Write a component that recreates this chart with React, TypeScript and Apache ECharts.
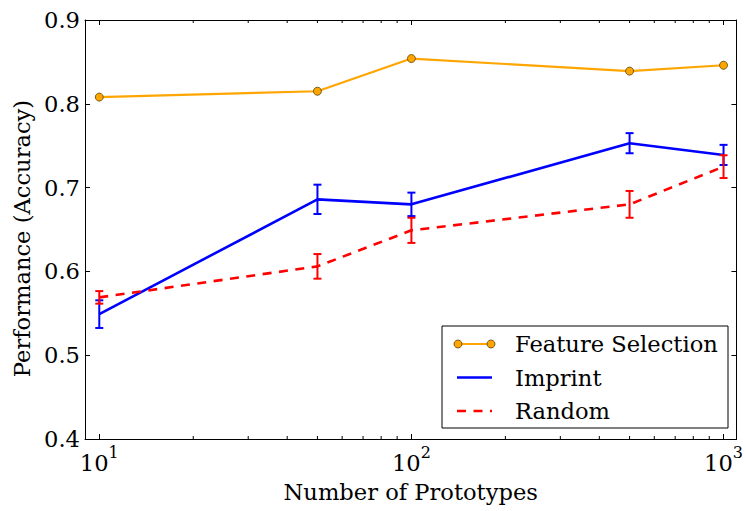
import React, { useEffect, useRef } from "react";
import * as echarts from "echarts";

const prototypes = [10, 50, 100, 500, 1000];
const featureSelection = [0.808, 0.815, 0.854, 0.839, 0.846];
const imprint = [0.549, 0.686, 0.68, 0.753, 0.739];
const imprintErr = [0.0165, 0.0175, 0.014, 0.012, 0.012];
const random = [0.569, 0.606, 0.649, 0.68, 0.725];
const randomErr = [0.0075, 0.0147, 0.015, 0.016, 0.0136];
const minorTicks = [20, 30, 40, 50, 60, 70, 80, 90, 200, 300, 400, 500, 600, 700, 800, 900];
const yTicks = [0.4, 0.5, 0.6, 0.7, 0.8, 0.9];
const legendNames = ["Feature Selection", "Imprint", "Random"];

const FONT = "'DejaVu Serif', serif";
const FS = 22.6;
const ORANGE = "#FFA500";
const BLUE = "#0000FF";
const RED = "#FF0000";

function errRender(color: string) {
  return (params: any, api: any) => {
    const x = api.value(0);
    const lo = api.coord([x, api.value(1)]);
    const hi = api.coord([x, api.value(2)]);
    const w = 4;
    const style = { stroke: color, lineWidth: 2 };
    return {
      type: "group",
      children: [
        { type: "line", shape: { x1: lo[0], y1: lo[1], x2: hi[0], y2: hi[1] }, style },
        { type: "line", shape: { x1: lo[0] - w, y1: lo[1], x2: lo[0] + w, y2: lo[1] }, style },
        { type: "line", shape: { x1: hi[0] - w, y1: hi[1], x2: hi[0] + w, y2: hi[1] }, style },
      ],
    };
  };
}

export default function App() {
  const ref = useRef<HTMLDivElement>(null);
  useEffect(() => {
    if (!ref.current) return;
    const chart = echarts.init(ref.current, undefined, { renderer: "svg" });
    const yMin = yTicks[0];
    const yMax = yTicks[yTicks.length - 1];
    const xAxisBase = {
      type: "log",
      logBase: 10,
      min: 9,
      max: 1100,
      splitLine: { show: false },
      axisLine: { lineStyle: { color: "#000", width: 1 } },
      axisTick: { inside: true, length: 5, lineStyle: { color: "#000" } },
    };
    const yAxisBase = {
      type: "value",
      min: yMin,
      max: yMax,
      interval: 0.1,
      splitLine: { show: false },
      axisLine: { show: true, lineStyle: { color: "#000", width: 1 } },
      axisTick: { show: true, inside: true, length: 5, lineStyle: { color: "#000" } },
    };
    const legendY = [344, 377.5, 411];
    chart.setOption({
      animation: false,
      backgroundColor: "#fff",
      textStyle: { fontFamily: FONT },
      grid: { left: 85, right: 7, top: 20, bottom: 72 },
      xAxis: [
        {
          ...xAxisBase,
          position: "bottom",
          name: "Number of Prototypes",
          nameLocation: "middle",
          nameGap: 41,
          nameTextStyle: { fontSize: FS, color: "#000", fontFamily: FONT },
          axisLabel: {
            margin: 5,
            color: "#000",
            fontFamily: FONT,
            formatter: (v: number) => {
              const e = Math.round(Math.log10(v));
              if (Math.abs(Math.pow(10, e) - v) > 1e-6 * v) return "";
              return `{b|10}{s|${e}}`;
            },
            rich: {
              b: { fontSize: FS, lineHeight: 37, fontFamily: FONT, color: "#000" },
              s: { fontSize: 16, lineHeight: 17, verticalAlign: "top", fontFamily: FONT, color: "#000" },
            },
          },
        },
        {
          ...xAxisBase,
          position: "top",
          axisLabel: { show: false },
        },
      ],
      yAxis: [
        {
          ...yAxisBase,
          position: "left",
          name: "Performance (Accuracy)",
          nameLocation: "middle",
          nameGap: 47,
          nameTextStyle: { fontSize: FS, color: "#000", fontFamily: FONT, padding: [0, 18, 0, 0] },
          axisLabel: {
            margin: 5,
            fontSize: FS,
            color: "#000",
            fontFamily: FONT,
            formatter: (v: number) => v.toFixed(1),
          },
        },
        {
          ...yAxisBase,
          position: "right",
          axisLabel: { show: false },
        },
      ],
      series: [
        {
          type: "custom",
          name: "minor ticks",
          silent: true,
          xAxisIndex: 0,
          yAxisIndex: 0,
          data: minorTicks.map((v) => [v, yMin]),
          encode: { x: 0, y: 1 },
          renderItem: (params: any, api: any) => {
            const x = api.value(0);
            const b = api.coord([x, yMin]);
            const t = api.coord([x, yMax]);
            const style = { stroke: "#000", lineWidth: 1 };
            return {
              type: "group",
              children: [
                { type: "line", shape: { x1: b[0], y1: b[1], x2: b[0], y2: b[1] - 3 }, style },
                { type: "line", shape: { x1: t[0], y1: t[1], x2: t[0], y2: t[1] + 3 }, style },
              ],
            };
          },
        },
        {
          type: "line",
          name: legendNames[0],
          data: prototypes.map((x, i) => [x, featureSelection[i]]),
          symbol: "circle",
          symbolSize: 8,
          itemStyle: { color: ORANGE, borderColor: "#5a4000", borderWidth: 0.8 },
          lineStyle: { color: ORANGE, width: 2.2 },
          z: 3,
        },
        {
          type: "line",
          name: legendNames[1],
          data: prototypes.map((x, i) => [x, imprint[i]]),
          symbol: "none",
          lineStyle: { color: BLUE, width: 2.6 },
          z: 4,
        },
        {
          type: "custom",
          name: "Imprint error",
          data: prototypes.map((x, i) => [x, imprint[i] - imprintErr[i], imprint[i] + imprintErr[i]]),
          encode: { x: 0, y: [1, 2] },
          renderItem: errRender(BLUE),
          z: 4,
        },
        {
          type: "line",
          name: legendNames[2],
          data: prototypes.map((x, i) => [x, random[i]]),
          symbol: "none",
          lineStyle: { color: RED, width: 2.6, type: [9, 7.5] },
          z: 5,
        },
        {
          type: "custom",
          name: "Random error",
          data: prototypes.map((x, i) => [x, random[i] - randomErr[i], random[i] + randomErr[i]]),
          encode: { x: 0, y: [1, 2] },
          renderItem: errRender(RED),
          z: 5,
        },
      ],
      graphic: [
        {
          type: "group",
          z: 100,
          children: [
            {
              type: "rect",
              shape: { x: 442, y: 326, width: 286, height: 102 },
              style: { fill: "#fff", stroke: "#000", lineWidth: 1 },
            },
            {
              type: "line",
              shape: { x1: 458, y1: legendY[0], x2: 491, y2: legendY[0] },
              style: { stroke: ORANGE, lineWidth: 2.2 },
            },
            {
              type: "circle",
              shape: { cx: 458, cy: legendY[0], r: 4 },
              style: { fill: ORANGE, stroke: "#5a4000", lineWidth: 0.8 },
            },
            {
              type: "circle",
              shape: { cx: 491, cy: legendY[0], r: 4 },
              style: { fill: ORANGE, stroke: "#5a4000", lineWidth: 0.8 },
            },
            {
              type: "line",
              shape: { x1: 457, y1: legendY[1], x2: 492, y2: legendY[1] },
              style: { stroke: BLUE, lineWidth: 2.6 },
            },
            {
              type: "line",
              shape: { x1: 457, y1: legendY[2], x2: 492, y2: legendY[2] },
              style: { stroke: RED, lineWidth: 2.6, lineDash: [9, 7.5] },
            },
            ...legendNames.map((n, i) => ({
              type: "text",
              x: 515,
              y: legendY[i],
              style: {
                text: n,
                fontSize: FS,
                fontFamily: FONT,
                fill: "#000",
                textVerticalAlign: "middle",
                verticalAlign: "middle",
              },
            })),
          ],
        },
      ],
    });
    return () => chart.dispose();
  }, []);
  return (
    <div
      ref={ref}
      style={{ position: "fixed", left: 0, top: 0, width: 746, height: 511, background: "#fff" }}
    />
  );
}
